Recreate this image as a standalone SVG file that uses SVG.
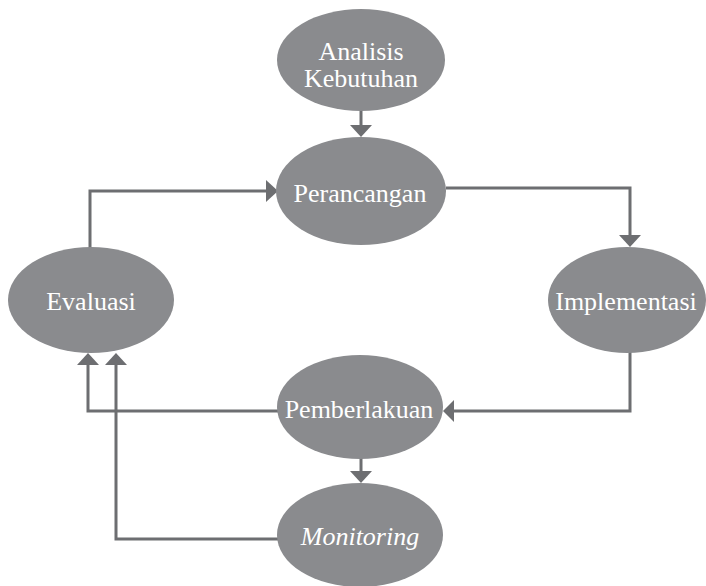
<svg xmlns="http://www.w3.org/2000/svg" width="706" height="586" viewBox="0 0 706 586">
  <style>
    .node ellipse { fill: #8a8b8e; }
    .node text { fill: #ffffff; font-family: "Liberation Serif", "Times New Roman", serif; font-size: 26px; text-anchor: middle; }
    .edge { fill: none; stroke: #6d6e71; stroke-width: 3; }
    .head { fill: #6d6e71; }
  </style>
  <rect width="706" height="586" fill="#ffffff"/>

  <g id="connectors">
    <!-- Analisis Kebutuhan -> Perancangan -->
    <path class="edge" d="M361 110 V126"/>
    <polygon class="head" points="350,125 372,125 361,137"/>
    <!-- Evaluasi -> Perancangan -->
    <path class="edge" d="M90 250 V191 H268"/>
    <polygon class="head" points="266,180 266,202 278,191"/>
    <!-- Perancangan -> Implementasi -->
    <path class="edge" d="M446 188 H630 V237"/>
    <polygon class="head" points="619,235 641,235 630,247"/>
    <!-- Implementasi -> Pemberlakuan -->
    <path class="edge" d="M630 352 V411 H452"/>
    <polygon class="head" points="454,400 454,422 443,411"/>
    <!-- Pemberlakuan -> Monitoring -->
    <path class="edge" d="M361 458 V473"/>
    <polygon class="head" points="350,471 372,471 361,483"/>
    <!-- Pemberlakuan -> Evaluasi -->
    <path class="edge" d="M278 411 H88 V363"/>
    <polygon class="head" points="77,365 99,365 88,353"/>
    <!-- Monitoring -> Evaluasi -->
    <path class="edge" d="M278 539 H116 V363"/>
    <polygon class="head" points="105,365 127,365 116,353"/>
  </g>

  <g id="analisis" class="node">
    <ellipse cx="361" cy="60" rx="84" ry="51"/>
    <text x="361" y="60">Analisis</text>
    <text x="361" y="87">Kebutuhan</text>
  </g>
  <g id="perancangan" class="node">
    <ellipse cx="361" cy="191" rx="85" ry="54"/>
    <text x="360" y="202">Perancangan</text>
  </g>
  <g id="implementasi" class="node">
    <ellipse cx="627" cy="300" rx="79" ry="53"/>
    <text x="626" y="310">Implementasi</text>
  </g>
  <g id="evaluasi" class="node">
    <ellipse cx="91" cy="300" rx="83" ry="53"/>
    <text x="91" y="310">Evaluasi</text>
  </g>
  <g id="pemberlakuan" class="node">
    <ellipse cx="360" cy="407" rx="83" ry="52"/>
    <text x="359" y="418">Pemberlakuan</text>
  </g>
  <g id="monitoring" class="node">
    <ellipse cx="360" cy="535" rx="83" ry="52"/>
    <text x="360" y="545" font-style="italic">Monitoring</text>
  </g>
</svg>
